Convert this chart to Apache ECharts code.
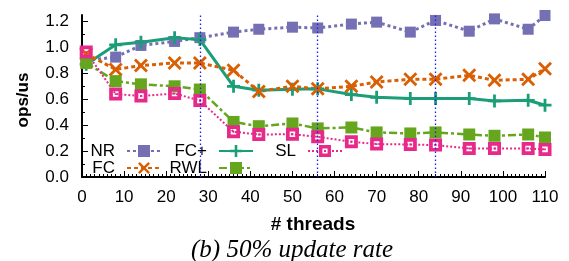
<!DOCTYPE html>
<html><head><meta charset="utf-8">
<script src="https://cdn.jsdelivr.net/npm/echarts@6/dist/echarts.min.js"></script>
<style>html,body{margin:0;padding:0;background:#fff}#c{width:569px;height:261px}</style>
</head><body><div id="c"></div>
<script>
const threads = [1, 8, 14, 22, 28, 36, 42, 50, 56, 64, 70, 78, 84, 92, 98, 106, 110];
const nrVals  = [0.90, 0.925, 1.015, 1.046, 1.075, 1.118, 1.14, 1.156, 1.15, 1.18, 1.195, 1.118, 1.208, 1.125, 1.22, 1.14, 1.246];
const fcVals  = [0.95, 0.83, 0.86, 0.88, 0.88, 0.823, 0.66, 0.70, 0.68, 0.70, 0.733, 0.754, 0.754, 0.785, 0.746, 0.754, 0.836];
const fcpVals = [0.87, 1.02, 1.04, 1.075, 1.06, 0.70, 0.67, 0.677, 0.68, 0.636, 0.615, 0.605, 0.605, 0.605, 0.587, 0.592, 0.554];
const rwlVals = [0.88, 0.74, 0.715, 0.70, 0.675, 0.425, 0.392, 0.413, 0.375, 0.382, 0.344, 0.336, 0.344, 0.328, 0.318, 0.328, 0.305];
const slVals  = [0.964, 0.64, 0.625, 0.644, 0.59, 0.349, 0.328, 0.33, 0.31, 0.272, 0.254, 0.251, 0.246, 0.22, 0.22, 0.22, 0.213];
const markerThreads = [28, 56, 84];
const yTickLabels = [0, 0.2, 0.4, 0.6, 0.8, 1.0, 1.2];

const FONT = '"Liberation Sans", Arial, Helvetica, sans-serif';
const zip = v => threads.map((t, i) => [t, v[i]]);

const X_PATH = 'path://M0,2L2,0L7,5L12,0L14,2L9,7L14,12L12,14L7,9L2,14L0,12L5,7Z';
const PLUS_PATH = 'path://M5.5,0H8.5V5.5H14V8.5H8.5V14H5.5V8.5H0V5.5H5.5Z';
const HOLLOW_PATH = 'path://M0,0L14,0L14,14L0,14Z M4,4L4,10L10,10L10,4Z M6,6L8,6L8,8L6,8Z';

function mkSeries(name, vals, color, lineType, width, symbol, size) {
  return {
    name, type: 'line', data: zip(vals), color,
    lineStyle: { color, width, type: lineType },
    itemStyle: { color, opacity: 1 },
    symbol, symbolSize: size, showAllSymbol: true
  };
}

const series = [
  mkSeries('NR', nrVals, '#7570b3', [3, 3], 3, 'rect', 11),
  mkSeries('FC+', fcpVals, '#1b9e77', 'solid', 3, PLUS_PATH, 13),
  mkSeries('FC', fcVals, '#d95f02', [4, 3], 3, X_PATH, 14),
  mkSeries('RWL', rwlVals, '#66a61e', [8, 3, 3, 3], 2.5, 'rect', 12),
  mkSeries('SL', slVals, '#e7298a', [2, 2], 2, HOLLOW_PATH, 13)
];
series[0].markLine = {
  silent: true, symbol: 'none', label: { show: false },
  lineStyle: { color: '#1a1aff', width: 1.3, type: [1.5, 2.5] },
  data: markerThreads.map(t => ({ xAxis: t }))
};

function mkLegend(name, right, top) {
  return {
    data: [name], right, top, align: 'right', orient: 'horizontal',
    padding: 0, itemWidth: 34, itemHeight: 15, selectedMode: false,
    textStyle: { fontFamily: FONT, fontSize: 17, color: '#000', padding: [0, 7, 0, 0] }
  };
}

const chart = echarts.init(document.getElementById('c'), null, { renderer: 'canvas' });
chart.setOption({
  animation: false,
  backgroundColor: '#fff',
  grid: { left: 82, right: 24, top: 15, bottom: 84, containLabel: false },
  legend: [
    mkLegend('NR', 407, 142.5),
    mkLegend('FC+', 315, 142.5),
    mkLegend('SL', 226, 142.5),
    mkLegend('FC', 407, 159.5),
    mkLegend('RWL', 315, 159.5)
  ],
  xAxis: {
    type: 'value', min: 0, max: 110, interval: 10,
    axisLine: { lineStyle: { color: '#000', width: 2 } },
    axisTick: { inside: true, length: 6, lineStyle: { color: '#000', width: 1 } },
    minorTick: { show: true, splitNumber: 10, length: 3, lineStyle: { color: '#000', width: 1 } },
    splitLine: { show: false },
    axisLabel: { fontFamily: FONT, fontSize: 17, color: '#000', margin: 12 }
  },
  yAxis: {
    type: 'value', min: 0, max: 1.25, interval: 0.2,
    axisLine: { show: true, lineStyle: { color: '#000', width: 2 } },
    axisTick: { show: true, inside: true, length: 6, lineStyle: { color: '#000', width: 1 }, customValues: yTickLabels },
    minorTick: { show: true, splitNumber: 2, length: 3, lineStyle: { color: '#000', width: 1 } },
    splitLine: { show: false },
    axisLabel: { fontFamily: FONT, fontSize: 17, color: '#000', margin: 13,
      customValues: yTickLabels, formatter: v => v.toFixed(1) }
  },
  graphic: [
    { type: 'text', x: 23, y: 100, rotation: Math.PI / 2,
      style: { text: 'ops/us', font: 'bold 17px ' + FONT, fill: '#000', textAlign: 'center', textVerticalAlign: 'middle' } },
    { type: 'text', x: 313, y: 225,
      style: { text: '# threads', font: 'bold 19px ' + FONT, fill: '#000', textAlign: 'center', textVerticalAlign: 'middle' } },
    { type: 'text', x: 292, y: 250,
      style: { text: '(b) 50% update rate', font: 'italic 25px "Liberation Serif", "Times New Roman", serif', fill: '#000', textAlign: 'center', textVerticalAlign: 'middle' } }
  ],
  series
});
</script>
</body></html>
